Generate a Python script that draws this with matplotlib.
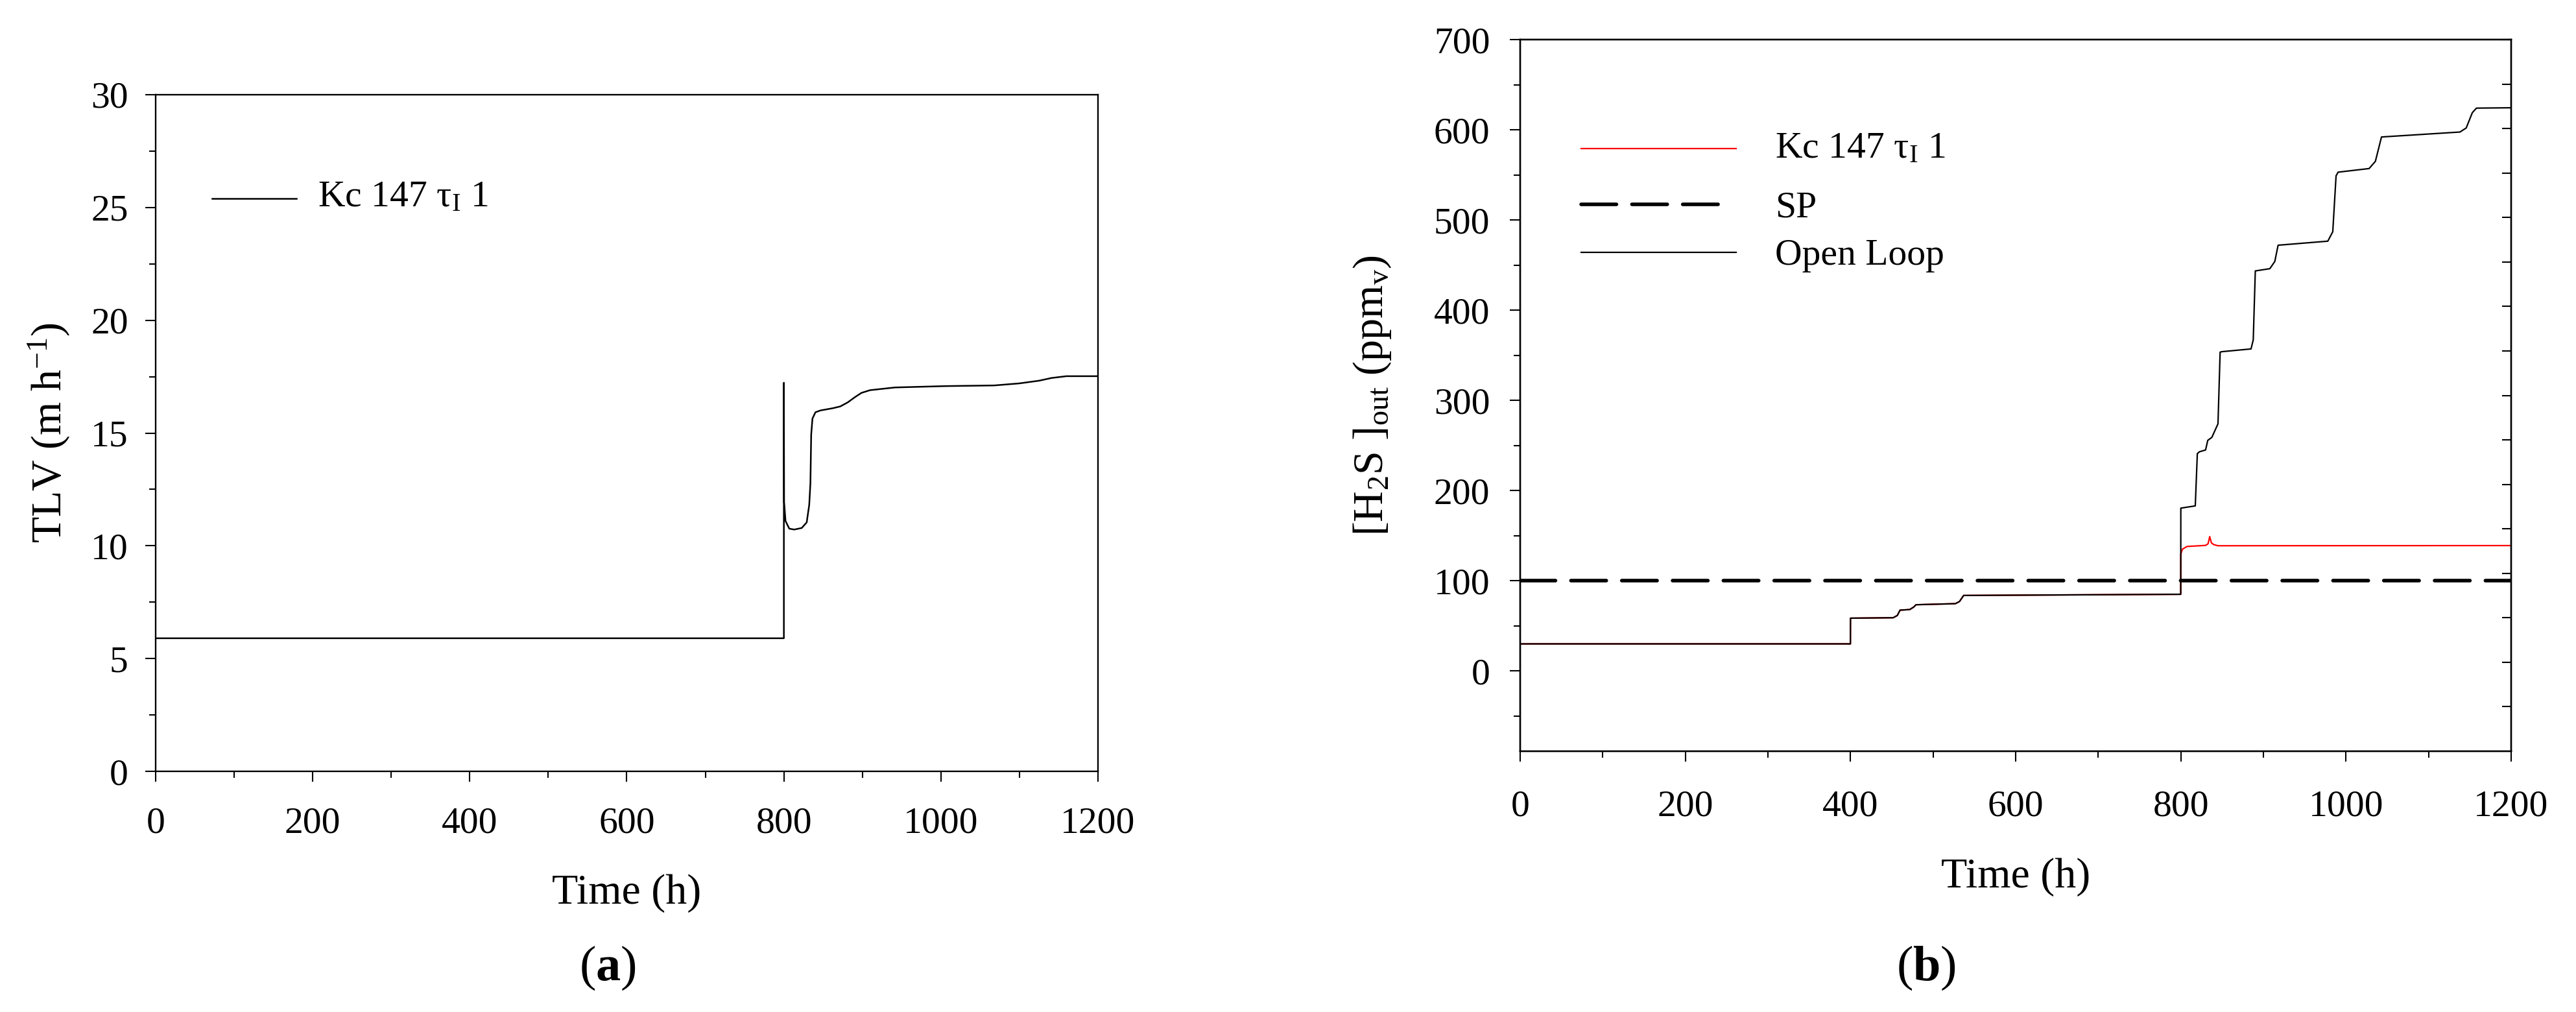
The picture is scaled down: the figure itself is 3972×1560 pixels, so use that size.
import matplotlib

matplotlib.use("Agg")
import matplotlib.pyplot as plt
import numpy as np

plt.rcParams["font.family"] = ["Liberation Serif", "DejaVu Serif"]
plt.rcParams["mathtext.fontset"] = "custom"
plt.rcParams["mathtext.rm"] = "Liberation Serif"
plt.rcParams["mathtext.it"] = "Liberation Serif:italic"
plt.rcParams["mathtext.bf"] = "Liberation Serif:bold"

FS = 41.5      # tick labels, legends
LFS = 47.5     # axis titles
CFS = 55       # panel captions

# (a) TLV response, Kc 147 tau_I 1
tlv_time = [0, 800, 800, 800.3, 802.1, 806.9, 813.2, 822.8, 829.1, 832.3, 833.8, 834.8,
            836.4, 840.2, 846.5, 862.4, 871.9, 881.4, 890.9, 898.8, 909.8, 941.5,
            1004.8, 1068, 1099.7, 1125, 1140.8, 1159.8, 1200]
tlv_value = [5.9, 5.9, 17.23, 11.94, 11.10, 10.76, 10.72, 10.79, 11.04, 11.82, 12.77, 14.93,
             15.64, 15.92, 16.00, 16.10, 16.18, 16.36, 16.60, 16.78, 16.90, 17.02,
             17.08, 17.11, 17.20, 17.32, 17.44, 17.52, 17.52]

# (b) outlet H2S concentration
ol_time = [0, 399.9, 400, 451.7, 456.7, 460, 471.8, 476.8, 479.3, 527, 532, 537, 799.9,
           800, 817.5, 820, 822.6, 830, 832.6, 837.6, 845, 847.6, 850, 885, 887.7, 890.2,
           907.8, 913.8, 917.8, 978, 984, 988, 990.5, 1028, 1035.6, 1043, 1138, 1145.6,
           1153, 1158, 1200]
ol_ppm = [30, 30, 58.5, 59, 61.5, 67.4, 68.1, 71, 73.4, 74.6, 77, 83.7, 85,
          180.5, 183, 241, 243, 245, 255.6, 259, 274, 353.5, 354, 357, 367, 443.5,
          446, 454, 472, 476.5, 487, 549, 553, 557, 565, 592, 597.5, 602,
          619, 624, 624.4]

kc_time = [0, 399.9, 400, 451.7, 456.7, 460, 471.8, 476.8, 479.3, 527, 532, 537, 799.9,
           800, 802, 807.5, 830, 833, 835, 837, 840, 845, 1200]
kc_ppm = [30, 30, 58.5, 59, 61.5, 67.4, 68.1, 71, 73.4, 74.6, 77, 83.7, 85,
          129.7, 135, 138, 139.2, 141, 149, 142, 140, 138.8, 139]

sp_time = [0, 1200]
sp_ppm = [100, 100]

W, H = 3973, 1560
fig = plt.figure(figsize=(W / 100, H / 100), dpi=100)


def rect(left, top, right, bottom):
    return [left / W, 1 - bottom / H, (right - left) / W, (bottom - top) / H]


def style_axes(ax, xpad, ypad):
    for s in ax.spines.values():
        s.set_linewidth(1.7)
    ax.tick_params(which="both", direction="out", top=False, right=False,
                   labelsize=FS, width=1.5)
    ax.tick_params(which="major", length=11.5)
    ax.tick_params(which="minor", length=7)
    ax.tick_params(axis="x", which="major", pad=xpad)
    ax.tick_params(axis="y", which="major", pad=ypad)
    ax.set_xlim(0, 1200)
    ax.set_xticks(np.arange(0, 1201, 200))
    ax.set_xticks(np.arange(0, 1201, 100), minor=True)


# ---- panel (a)
ax1 = fig.add_axes(rect(240, 146, 1693, 1189))
ax1.plot(tlv_time, tlv_value, color="black", lw=1.8)
style_axes(ax1, 28, 19)
ax1.set_ylim(0, 30)
ax1.set_yticks(np.arange(0, 31, 5))
ax1.set_yticks(np.arange(0, 30.1, 2.5), minor=True)
ax1.set_xlabel("Time (h)", fontsize=LFS)
ax1.xaxis.set_label_coords(0.5, -0.180)
ax1.xaxis.label.set_va("center")
ax1.set_ylabel("TLV (m h$^{-1}$)", fontsize=LFS)
ax1.yaxis.set_label_coords(-0.1136, 0.5)
ax1.yaxis.label.set_va("center")

ax1.plot([0.0599, 0.1493], [0.8466, 0.8466], transform=ax1.transAxes,
         color="black", lw=1.8)
ax1.text(0.172, 0.835, r"Kc 147 τ$_\mathregular{I}$ 1", transform=ax1.transAxes,
         fontsize=FS, va="baseline", ha="left")

# ---- panel (b)
ax2 = fig.add_axes(rect(2344, 61, 3872, 1158))
ax2.plot(kc_time, kc_ppm, color="#ff0000", lw=1.6)
ax2.plot(sp_time, sp_ppm, color="black", lw=4, dashes=(9.8, 4.3),
         dash_capstyle="round")
ax2.plot(ol_time, ol_ppm, color="black", lw=1.6)
style_axes(ax2, 31, 22)
ax2.set_ylim(-89, 700)
ax2.set_yticks(np.arange(0, 701, 100))
ax2.set_yticks(np.arange(-50, 701, 50), minor=True)
ax2.set_xlabel("Time (h)", fontsize=LFS)
ax2.xaxis.set_label_coords(0.5, -0.1768)
ax2.xaxis.label.set_va("center")
ax2.set_ylabel(r"[H$_\mathregular{2}$S ]$_\mathregular{out}$ (ppm$_\mathregular{v}$)",
               fontsize=LFS)
ax2.yaxis.set_label_coords(-0.1486, 0.5)
ax2.yaxis.label.set_va("center")

# right-hand tick axis (slightly different range, inward ticks)
ax2r = ax2.twinx()
ax2r.set_ylim(-100, 700)
ax2r.set_yticks(np.arange(-50, 701, 50))
ax2r.tick_params(axis="y", direction="in", length=10, width=1.5, labelright=False)
for s in ax2r.spines.values():
    s.set_linewidth(1.7)

leg_rows = [
    (0.8469, 0.8341, r"Kc 147 τ$_\mathregular{I}$ 1", dict(color="#ff0000", lw=1.6)),
    (0.7685, 0.7505, "SP", dict(color="black", lw=4, dashes=(9.8, 4.3),
                                 dash_capstyle="round")),
    (0.7010, 0.6837, "Open Loop", dict(color="black", lw=1.6)),
]
for ly, ty, label, kw in leg_rows:
    x_end = 0.2179 if label != "SP" else 0.2020
    ax2.plot([0.0615, x_end], [ly, ly], transform=ax2.transAxes, **kw)
    ax2.text(0.2572, ty, label, transform=ax2.transAxes, fontsize=FS,
             va="baseline", ha="left")

fig.text(937 / W, 1 - 1492 / H, r"($\mathbf{a}$)", fontsize=CFS, ha="center", va="center")
fig.text(2970 / W, 1 - 1492 / H, r"($\mathbf{b}$)", fontsize=CFS, ha="center", va="center")

fig.savefig("out.png", dpi=100, facecolor="white")
